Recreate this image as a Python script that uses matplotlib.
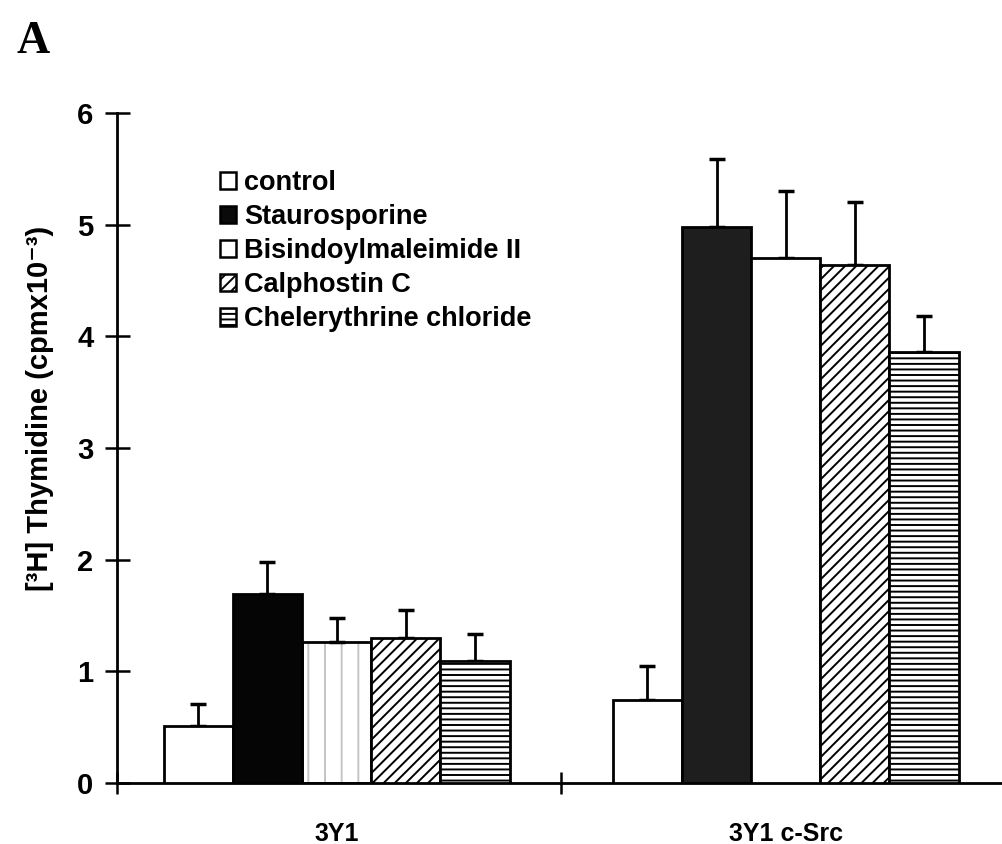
import numpy as np
import matplotlib
matplotlib.use("Agg")
import matplotlib.pyplot as plt
from matplotlib.patches import Patch

plt.rcParams['font.family'] = ['Liberation Sans', 'DejaVu Sans']
plt.rcParams['font.weight'] = 'bold'
plt.rcParams['hatch.linewidth'] = 1.4

# data
groups = ['3Y1', '3Y1 c-Src']
treatments = ['control', 'Staurosporine', 'Bisindoylmaleimide II',
              'Calphostin C', 'Chelerythrine chloride']
means_3y1 = [0.51, 1.69, 1.26, 1.30, 1.09]
errs_3y1 = [0.20, 0.29, 0.22, 0.25, 0.24]
means_src = [0.74, 4.98, 4.70, 4.64, 3.86]
errs_src = [0.31, 0.61, 0.60, 0.56, 0.32]
y_ticks = [0, 1, 2, 3, 4, 5, 6]

# styles per treatment
faces = ['white', '#0a0a0a', 'white', 'white', 'white']
hatches = [None, None, None, '///', '---']

means = np.array([means_3y1, means_src])
errs = np.array([errs_3y1, errs_src])

fig = plt.figure(figsize=(10.03, 8.44), dpi=100)
ax = fig.add_axes([0.1167, 0.0723, 0.8833, 0.7938])

x = np.arange(len(groups))
w = 0.154
for i, t in enumerate(treatments):
    pos = x + (i - 2) * w
    if t == 'Bisindoylmaleimide II':
        # faint dotted vertical pattern on the first group
        ax.bar(pos[:1], means[:1, i], w, facecolor='white', edgecolor='#c4c4c4',
               hatch='|', lw=0, zorder=2)
        ax.bar(pos[:1], means[:1, i], w, fill=False, edgecolor='black', lw=2, zorder=3)
        ax.bar(pos[1:], means[1:, i], w, facecolor='white', edgecolor='black', lw=2, zorder=3)
    elif t == 'Staurosporine':
        ax.bar(pos, means[:, i], w, color=['#050505', '#1e1e1e'], edgecolor='black',
               lw=2, zorder=3)
    else:
        ax.bar(pos, means[:, i], w, facecolor=faces[i], edgecolor='black',
               hatch=hatches[i], lw=2, zorder=3)
    ax.errorbar(pos, means[:, i], yerr=[np.zeros(len(groups)), errs[:, i]],
                fmt='none', ecolor='black', elinewidth=2, capsize=6, capthick=2.5, zorder=2)

ax.set_ylim(0, 6)
ax.set_xlim(-0.489, 1.484)
ax.set_yticks(y_ticks)
ax.set_xticks(x)
ax.set_xticklabels(groups, fontsize=18, fontweight='bold')
ax.set_xticks([-0.489, 0.5], minor=True)
ax.tick_params(axis='x', which='major', length=0, pad=28)
ax.tick_params(axis='x', which='minor', direction='inout', length=16, width=1.8)
ax.tick_params(axis='y', direction='inout', length=18, width=1.8, labelsize=21, pad=8)
for lab in ax.get_yticklabels():
    lab.set_fontweight('bold')

for s in ['top', 'right']:
    ax.spines[s].set_visible(False)
ax.spines['left'].set_linewidth(2)
ax.spines['bottom'].set_linewidth(2)

fig.text(40 / 1003, 1 - 408 / 844, '[³H] Thymidine (cpmx10⁻³)', rotation=90,
         ha='center', va='center', fontsize=21, fontweight='bold')
fig.text(17 / 1003, 1 - 42 / 844, 'A', fontsize=33, fontweight='bold',
         family='Liberation Serif', ha='left', va='center')

handles = [Patch(facecolor=faces[i], edgecolor='black', hatch=hatches[i], lw=1.8)
           for i in range(len(treatments))]
ax.legend(handles, treatments, loc='upper left',
          bbox_to_anchor=(220 / 1003, 1 - 170 / 844), bbox_transform=fig.transFigure,
          frameon=False, handlelength=0.6, handleheight=0.6,
          handletextpad=0.3, labelspacing=0.3, borderpad=0, borderaxespad=0,
          prop={'weight': 'bold', 'size': 19.5})

fig.savefig('out.png', dpi=100)
